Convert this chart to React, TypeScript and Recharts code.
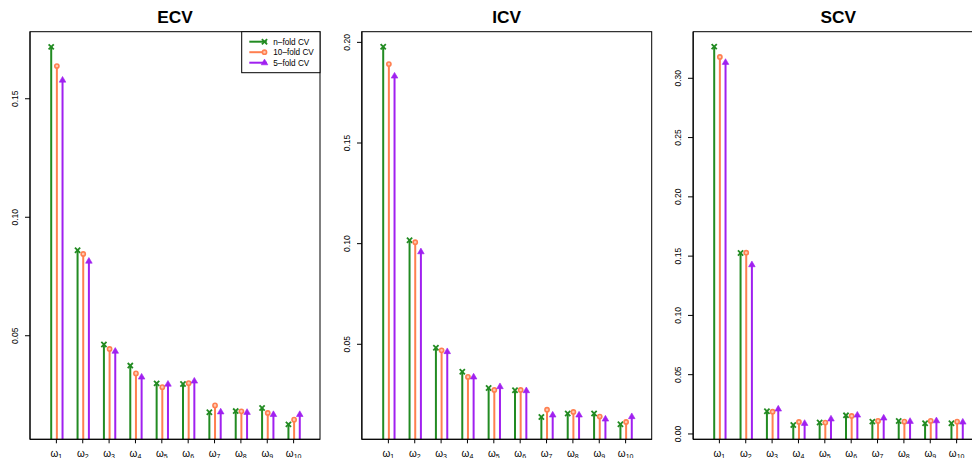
import React from 'react';
import { ComposedChart, Bar, XAxis, YAxis } from 'recharts';

const categories = ['1', '2', '3', '4', '5', '6', '7', '8', '9', '10'];
const seriesNames = ['n\u2013fold CV', '10\u2013fold CV', '5\u2013fold CV'];
const seriesColors = ['#228B22', '#FF7F50', '#A020F0'];
const panelTitles = ['ECV', 'ICV', 'SCV'];

const ecvNFold = [0.1719, 0.0861, 0.0463, 0.0374, 0.0299, 0.0296, 0.0177, 0.0182, 0.0195, 0.0126];
const ecvTenFold = [0.1638, 0.0845, 0.0444, 0.0341, 0.0283, 0.03, 0.0206, 0.0181, 0.0174, 0.0146];
const ecvFiveFold = [0.1579, 0.0815, 0.0435, 0.0326, 0.0296, 0.0309, 0.0179, 0.0177, 0.0168, 0.0168];

const icvNFold = [0.1978, 0.1017, 0.0483, 0.0364, 0.0283, 0.0272, 0.0139, 0.0156, 0.0156, 0.0103];
const icvTenFold = [0.1892, 0.1007, 0.047, 0.0338, 0.0273, 0.0273, 0.0175, 0.0164, 0.0141, 0.0114];
const icvFiveFold = [0.1833, 0.096, 0.0464, 0.0338, 0.029, 0.027, 0.0149, 0.0149, 0.0129, 0.0141];

const scvNFold = [0.3267, 0.1527, 0.0191, 0.0076, 0.0096, 0.0157, 0.0104, 0.011, 0.009, 0.009];
const scvTenFold = [0.318, 0.1529, 0.0188, 0.0101, 0.0096, 0.0152, 0.011, 0.0104, 0.011, 0.0104];
const scvFiveFold = [0.3135, 0.1428, 0.0211, 0.009, 0.0127, 0.016, 0.0135, 0.0107, 0.0112, 0.0101];

const ecvDomain = [0.0063, 0.1783];
const icvDomain = [0.0028, 0.2053];
const scvDomain = [-0.0045, 0.3393];

const ecvTicks = [0.05, 0.1, 0.15];
const icvTicks = [0.05, 0.1, 0.15, 0.2];
const scvTicks = [0, 0.05, 0.1, 0.15, 0.2, 0.25, 0.3];

const FONT = '"Liberation Sans", Arial, Helvetica, sans-serif';

const PLOT_TOP = 31.7;
const PLOT_H = 407.6;
const PLOT_W = 290;

const OmegaTick = (props: any) => {
  const { x, y, payload } = props;
  return (
    <text x={x} y={y + 11.2} textAnchor="middle" fontFamily={FONT} fill="#000">
      <tspan fontSize={10}>{'\u03C9'}</tspan>
      <tspan fontSize={7} dy={2}>{payload.value}</tspan>
    </text>
  );
};

const RotTick = (props: any) => {
  const { x, y, payload } = props;
  return (
    <text
      transform={`translate(${x - 7},${y}) rotate(-90)`}
      textAnchor="middle"
      fontSize={8.5}
      fontFamily={FONT}
      fill="#000"
    >
      {Number(payload.value).toFixed(2)}
    </text>
  );
};

const Marker = ({ kind, cx, cy, color }: any) => {
  if (kind === 0) {
    const s = 2.6;
    return (
      <g stroke={color} strokeWidth={1.8}>
        <line x1={cx - s} y1={cy - s} x2={cx + s} y2={cy + s} />
        <line x1={cx - s} y1={cy + s} x2={cx + s} y2={cy - s} />
      </g>
    );
  }
  if (kind === 1) {
    return <circle cx={cx} cy={cy} r={2.1} stroke={color} strokeWidth={1.6} fill="#FFC9B0" />;
  }
  return (
    <polygon
      points={`${cx},${cy - 3.6} ${cx - 3.3},${cy + 2.1} ${cx + 3.3},${cy + 2.1}`}
      fill={color}
      stroke={color}
      strokeWidth={0.6}
    />
  );
};

const makeStem = (kind: number) => (props: any) => {
  const { x, y, width, height } = props;
  const color = seriesColors[kind];
  const cx = x + width / 2;
  const top = Math.min(y, y + height);
  const bot = Math.max(y, y + height);
  return (
    <g>
      <line x1={cx} x2={cx} y1={top} y2={bot} stroke={color} strokeWidth={2} />
      <Marker kind={kind} cx={cx} cy={top} color={color} />
    </g>
  );
};

const stemShapes = [makeStem(0), makeStem(1), makeStem(2)];

const Panel = ({ left, n, t, f, domain, ticks }: any) => {
  const data = categories.map((c, i) => ({
    cat: c,
    n: [domain[0], n[i]],
    t: [domain[0], t[i]],
    f: [domain[0], f[i]],
  }));
  return (
    <div style={{ position: 'absolute', left, top: 0 }}>
      <ComposedChart
        width={322}
        height={458}
        data={data}
        margin={{ top: PLOT_TOP, right: 2, bottom: 0, left: 0 }}
        barGap={3.67}
        barSize={2}
      >
        <XAxis
          dataKey="cat"
          type="category"
          padding={{ left: 13.2, right: 13.2 }}
          height={18.7}
          tickSize={4}
          tickMargin={2}
          interval={0}
          axisLine={{ stroke: '#000' }}
          tickLine={{ stroke: '#000' }}
          tick={<OmegaTick />}
        />
        <YAxis
          type="number"
          domain={domain}
          allowDataOverflow
          ticks={ticks}
          interval={0}
          width={30}
          tickSize={5}
          tickMargin={0}
          tick={<RotTick />}
          axisLine={{ stroke: '#000' }}
          tickLine={{ stroke: '#000' }}
        />
        <Bar dataKey="n" name={seriesNames[0]} fill={seriesColors[0]} shape={stemShapes[0]} isAnimationActive={false} />
        <Bar dataKey="t" name={seriesNames[1]} fill={seriesColors[1]} shape={stemShapes[1]} isAnimationActive={false} />
        <Bar dataKey="f" name={seriesNames[2]} fill={seriesColors[2]} shape={stemShapes[2]} isAnimationActive={false} />
      </ComposedChart>
    </div>
  );
};

const boxLefts = [30, 361.7, 693.3];

export default function App() {
  return (
    <div
      style={{
        position: 'absolute',
        left: 0,
        top: 0,
        width: 972,
        height: 458,
        overflow: 'hidden',
        background: '#fff',
      }}
    >
      <Panel left={boxLefts[0] - 30} n={ecvNFold} t={ecvTenFold} f={ecvFiveFold} domain={ecvDomain} ticks={ecvTicks} />
      <Panel left={boxLefts[1] - 30} n={icvNFold} t={icvTenFold} f={icvFiveFold} domain={icvDomain} ticks={icvTicks} />
      <Panel left={boxLefts[2] - 30} n={scvNFold} t={scvTenFold} f={scvFiveFold} domain={scvDomain} ticks={scvTicks} />
      <svg
        width={972}
        height={458}
        style={{ position: 'absolute', left: 0, top: 0, pointerEvents: 'none' }}
      >
        {boxLefts.map((bx, i) => (
          <rect
            key={'box' + i}
            x={bx}
            y={PLOT_TOP}
            width={PLOT_W}
            height={PLOT_H}
            fill="none"
            stroke="#000"
            strokeWidth={1}
          />
        ))}
        {panelTitles.map((title, i) => (
          <text
            key={title}
            x={boxLefts[i] + PLOT_W / 2}
            y={22.7}
            textAnchor="middle"
            fontFamily={FONT}
            fontWeight="bold"
            fontSize={17.3}
            fill="#000"
          >
            {title}
          </text>
        ))}
        <g>
          <rect x={241.7} y={31.7} width={78.3} height={41} fill="#fff" stroke="#000" strokeWidth={1} />
          {seriesNames.map((name, i) => {
            const ry = 41.7 + i * 10.5;
            return (
              <g key={name}>
                <line x1={249.3} x2={266.7} y1={ry} y2={ry} stroke={seriesColors[i]} strokeWidth={2} />
                <Marker kind={i} cx={264.5} cy={ry} color={seriesColors[i]} />
                <text x={273.3} y={ry + 3} fontSize={8.2} fontFamily={FONT} fill="#000">
                  {name}
                </text>
              </g>
            );
          })}
        </g>
      </svg>
    </div>
  );
}
